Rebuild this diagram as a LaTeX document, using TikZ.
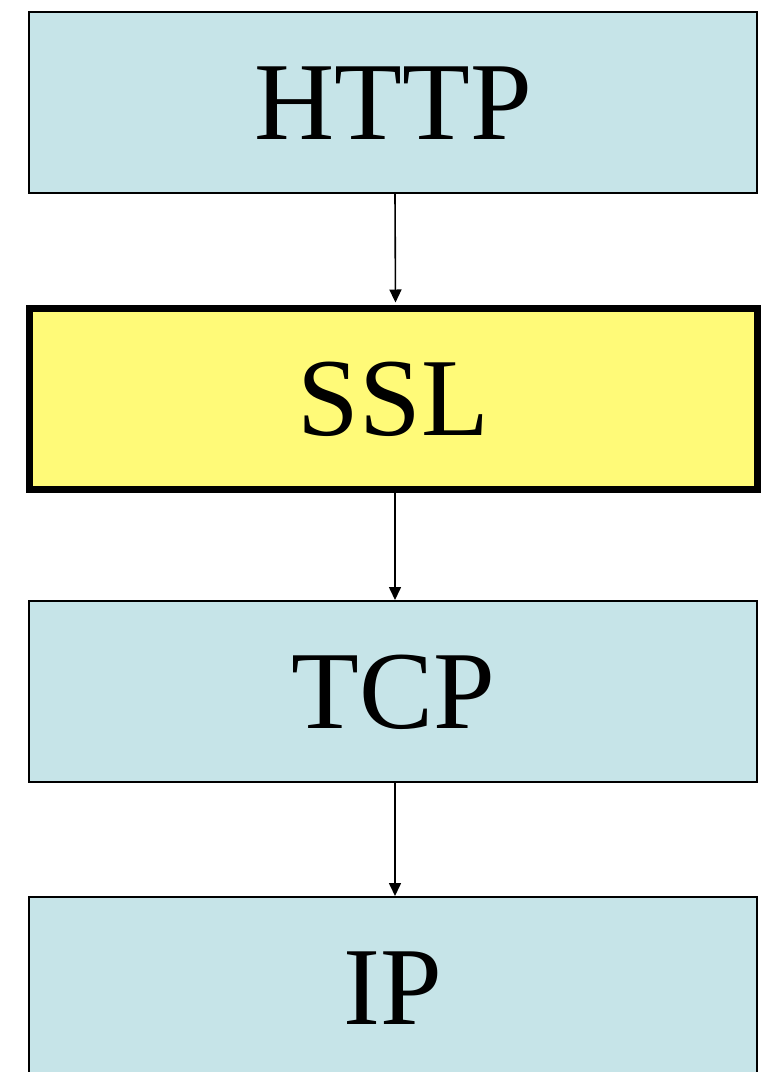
\documentclass[tikz,border=0pt]{standalone}
\usepackage{fontspec}
\setmainfont{Liberation Serif}
\usetikzlibrary{arrows.meta}
\definecolor{layerblue}{RGB}{198,228,232}
\definecolor{layeryellow}{RGB}{255,250,120}
\begin{document}
\begin{tikzpicture}[x=1pt,y=-1pt,
  layer/.style={draw=black, line width=2pt, fill=layerblue, rectangle,
    minimum width=728pt, minimum height=181pt, inner sep=0pt,
    font=\fontsize{111}{120}\selectfont, text height=73.5pt, text depth=0pt},
  sslbox/.style={layer, fill=layeryellow, line width=7pt},
  link/.style={line width=1.6pt, -{Triangle[length=13pt,width=12pt]}}]
\useasboundingbox (0,0) rectangle (765,1072);
\clip (0,0) rectangle (765,1072);
\node[layer]  (http) at (393,102.5) {HTTP};
\node[sslbox] (ssl)  at (393.5,398.5) {SSL};
\node[layer]  (tcp)  at (393,691.5) {TCP};
\node[layer]  (ip)   at (393,987.5) {IP};
\draw[link] ([xshift=2pt]http.south) -- ([xshift=2pt,yshift=2pt]ssl.north);
\draw[link] ([xshift=1.5pt]ssl.south) -- ([xshift=2pt]tcp.north);
\draw[link] ([xshift=2pt]tcp.south) -- ([xshift=2pt]ip.north);
\end{tikzpicture}
\end{document}
